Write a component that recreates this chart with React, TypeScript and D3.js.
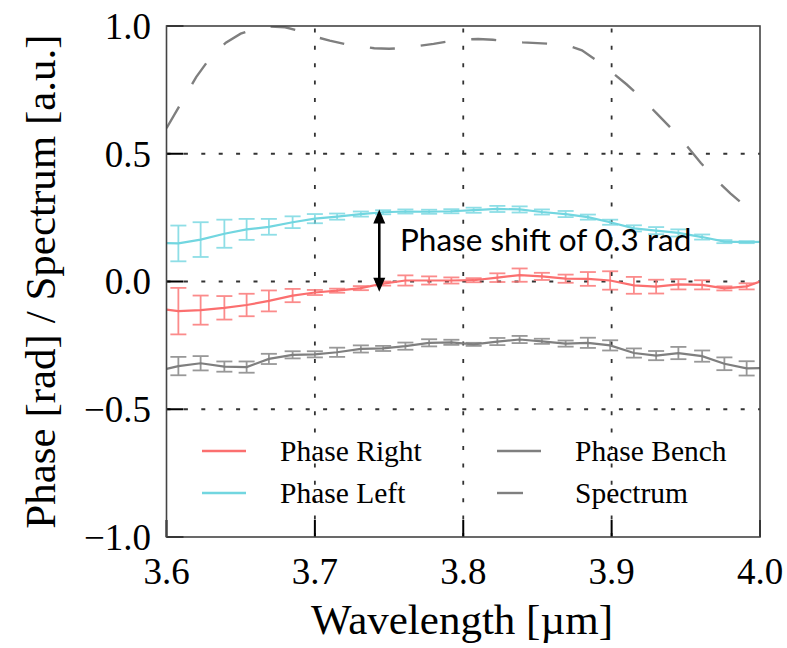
import React from "react";
import * as d3 from "d3";

// Sample wavelengths (µm); the first and last entries are the plot edges, drawn without error bars
const wavelengths = [
  3.6, 3.608, 3.623, 3.639, 3.654, 3.669, 3.685, 3.7, 3.715, 3.731, 3.746, 3.761, 3.777, 3.792,
  3.807, 3.823, 3.838, 3.853, 3.869, 3.884, 3.899, 3.915, 3.93, 3.945, 3.961, 3.976, 3.991, 4.0,
];

const phaseRight = [
  -0.11, -0.116, -0.112, -0.103, -0.092, -0.076, -0.055, -0.043, -0.036, -0.026, -0.008, 0.004,
  0.004, 0.004, 0.005, 0.015, 0.025, 0.02, 0.011, 0.01, 0.004, -0.015, -0.02, -0.011, -0.013,
  -0.027, -0.019, 0.0,
];
const phaseRightErr = [
  null, 0.091, 0.057, 0.046, 0.044, 0.041, 0.026, 0.01, 0.008, 0.008, 0.008, 0.02, 0.016, 0.012,
  0.008, 0.017, 0.026, 0.014, 0.016, 0.027, 0.036, 0.033, 0.027, 0.02, 0.018, 0.008, 0.012, null,
];

const phaseLeft = [
  0.15, 0.149, 0.164, 0.187, 0.204, 0.214, 0.232, 0.246, 0.254, 0.264, 0.271, 0.274, 0.273, 0.275,
  0.279, 0.284, 0.282, 0.272, 0.264, 0.252, 0.232, 0.208, 0.199, 0.19, 0.174, 0.156, 0.154, 0.155,
];
const phaseLeftErr = [
  null, 0.07, 0.068, 0.055, 0.041, 0.031, 0.023, 0.018, 0.012, 0.01, 0.008, 0.008, 0.008, 0.008,
  0.01, 0.012, 0.012, 0.01, 0.012, 0.01, 0.01, 0.012, 0.014, 0.014, 0.01, 0.006, 0.004, null,
];

const phaseBench = [
  -0.342, -0.331, -0.32, -0.333, -0.335, -0.303, -0.287, -0.285, -0.277, -0.264, -0.262, -0.253,
  -0.24, -0.238, -0.246, -0.235, -0.227, -0.234, -0.243, -0.24, -0.25, -0.28, -0.29, -0.28, -0.292,
  -0.322, -0.34, -0.339,
];
const phaseBenchErr = [
  null, 0.036, 0.028, 0.02, 0.022, 0.02, 0.014, 0.012, 0.018, 0.014, 0.01, 0.014, 0.014, 0.01,
  0.006, 0.014, 0.014, 0.01, 0.012, 0.02, 0.02, 0.018, 0.018, 0.024, 0.022, 0.025, 0.028, null,
];

// Normalised source spectrum
const spectrumWavelengths = [
  3.6, 3.61, 3.62, 3.63, 3.64, 3.65, 3.66, 3.67, 3.68, 3.69, 3.7, 3.71, 3.72, 3.73, 3.74, 3.75,
  3.76, 3.77, 3.78, 3.79, 3.8, 3.81, 3.82, 3.83, 3.84, 3.85, 3.86, 3.87, 3.88, 3.89, 3.9, 3.91,
  3.92, 3.93, 3.94, 3.95, 3.96, 3.97, 3.98, 3.99, 4.0,
];
const spectrum = [
  0.6, 0.7, 0.8, 0.88, 0.935, 0.97, 0.99, 0.998, 0.995, 0.98, 0.958, 0.943, 0.93, 0.922, 0.913,
  0.911, 0.914, 0.922, 0.93, 0.94, 0.947, 0.949, 0.946, 0.941, 0.936, 0.933, 0.93, 0.925, 0.905,
  0.865, 0.82, 0.772, 0.72, 0.66, 0.6, 0.535, 0.465, 0.4, 0.345, 0.295, 0.252,
];

const xTicks = [3.6, 3.7, 3.8, 3.9, 4.0];
const yTicks = [-1.0, -0.5, 0.0, 0.5, 1.0];
const xGrid = [3.7, 3.8, 3.9];
const yGrid = [-0.5, 0.0, 0.5];

const shiftTop = 0.282;
const shiftBottom = -0.04;
const shiftWavelength = 3.7434;

const W = 787;
const H = 648;
const left = 166.5;
const right = 760;
const top = 26;
const bottom = 537;

const RED = "#fb6f6f";
const CYAN = "#72d6e0";
const GRAY = "#7f7f7f";

const serif = "'Liberation Serif', 'Times New Roman', serif";

const fmt = (v: number) => {
  const s = Math.abs(v).toFixed(1);
  return v < 0 ? "\u2212" + s : s;
};

export default function App() {
  const x = d3.scaleLinear().domain([3.6, 4.0]).range([left, right]);
  const y = d3.scaleLinear().domain([-1, 1]).range([bottom, top]);

  const line = d3
    .line<[number, number]>()
    .x((d) => x(d[0]))
    .y((d) => y(d[1]));

  const seriesList = [
    { name: "Phase Bench", values: phaseBench, errs: phaseBenchErr, color: GRAY },
    { name: "Phase Right", values: phaseRight, errs: phaseRightErr, color: RED },
    { name: "Phase Left", values: phaseLeft, errs: phaseLeftErr, color: CYAN },
  ];

  const spectrumPath = line(
    spectrumWavelengths.map((w, i) => [w, spectrum[i]] as [number, number])
  )!;

  const capHalf = 8;

  const legendRows = [
    { label: "Phase Right", color: RED, col: 0, row: 0, dashed: false },
    { label: "Phase Left", color: CYAN, col: 0, row: 1, dashed: false },
    { label: "Phase Bench", color: GRAY, col: 1, row: 0, dashed: false },
    { label: "Spectrum", color: GRAY, col: 1, row: 1, dashed: true },
  ];

  return (
    <svg
      width={W}
      height={H}
      style={{ position: "absolute", left: 0, top: 0, background: "#fff" }}
    >
      <rect x={0} y={0} width={W} height={H} fill="#fff" />

      {/* grid */}
      <g stroke="#333" strokeWidth={1.8} strokeDasharray="4,13.4">
        {xGrid.map((g) => (
          <line key={"gx" + g} x1={x(g)} x2={x(g)} y1={bottom} y2={top} />
        ))}
        {yGrid.map((g) => (
          <line key={"gy" + g} x1={left} x2={right} y1={y(g)} y2={y(g)} />
        ))}
      </g>

      <defs>
        <clipPath id="plotArea">
          <rect x={left} y={top} width={right - left} height={bottom - top} />
        </clipPath>
      </defs>

      <g clipPath="url(#plotArea)">
        {/* spectrum */}
        <path
          d={spectrumPath}
          fill="none"
          stroke={GRAY}
          strokeWidth={2.4}
          strokeDasharray="25,26"
        />

        {seriesList.map((s) => {
          const pts = wavelengths.map((w, i) => [w, s.values[i]] as [number, number]);
          return (
            <g key={s.name}>
              <path d={line(pts)!} fill="none" stroke={s.color} strokeWidth={2.2} />
              <g stroke={s.color} strokeWidth={1.8} opacity={0.8}>
                {wavelengths.map((w, i) => {
                  const e = s.errs[i];
                  if (e == null) return null;
                  const cx = x(w);
                  const y1 = y(s.values[i] - e);
                  const y2 = y(s.values[i] + e);
                  return (
                    <g key={i}>
                      <line x1={cx} x2={cx} y1={y1} y2={y2} />
                      <line x1={cx - capHalf} x2={cx + capHalf} y1={y1} y2={y1} />
                      <line x1={cx - capHalf} x2={cx + capHalf} y1={y2} y2={y2} />
                    </g>
                  );
                })}
              </g>
            </g>
          );
        })}
      </g>

      {/* phase shift annotation */}
      <g>
        <line
          x1={x(shiftWavelength)}
          x2={x(shiftWavelength)}
          y1={y(shiftTop) + 10}
          y2={y(shiftBottom) - 10}
          stroke="#000"
          strokeWidth={2.6}
        />
        <path
          d={`M${x(shiftWavelength)},${y(shiftTop)} l-6,14 l12,0 z`}
          fill="#000"
        />
        <path
          d={`M${x(shiftWavelength)},${y(shiftBottom)} l-6,-14 l12,0 z`}
          fill="#000"
        />
        <text
          x={400}
          y={251}
          fontFamily="Lato, 'Open Sans', sans-serif"
          fontSize={31.5}
          fill="#000"
        >
          Phase shift of 0.3 rad
        </text>
      </g>

      {/* legend */}
      <g fontFamily={serif} fontSize={29.5} fill="#000">
        {legendRows.map((r) => {
          const lx = r.col === 0 ? 202 : 497;
          const ly = 451 + r.row * 42;
          return (
            <g key={r.label}>
              <line
                x1={lx}
                x2={r.dashed ? lx + 26 : lx + 44}
                y1={ly}
                y2={ly}
                stroke={r.color}
                strokeWidth={2.4}
              />
              <text x={lx + 78} y={ly} dy="0.35em">
                {r.label}
              </text>
            </g>
          );
        })}
      </g>

      {/* ticks */}
      <g stroke="#000" strokeWidth={2}>
        {yTicks.map((t) => (
          <line key={"ty" + t} x1={left} x2={left + 17} y1={y(t)} y2={y(t)} />
        ))}
        {xTicks.map((t) => (
          <line key={"tx" + t} x1={x(t)} x2={x(t)} y1={bottom} y2={bottom - 17} />
        ))}
      </g>

      {/* frame */}
      <rect
        x={left}
        y={top}
        width={right - left}
        height={bottom - top}
        fill="none"
        stroke="#444"
        strokeWidth={1.6}
      />

      {/* tick labels */}
      <g fontFamily={serif} fontSize={37} fill="#000">
        {yTicks.map((t) => (
          <text key={"ly" + t} x={151} y={y(t)} dy="0.35em" textAnchor="end">
            {fmt(t)}
          </text>
        ))}
        {xTicks.map((t) => (
          <text key={"lx" + t} x={x(t)} y={584} textAnchor="middle">
            {t.toFixed(1)}
          </text>
        ))}
      </g>

      {/* axis titles */}
      <text
        x={462}
        y={634}
        textAnchor="middle"
        fontFamily={serif}
        fontSize={43}
        fill="#000"
      >
        Wavelength [µm]
      </text>
      <text
        transform={`translate(55,${(top + bottom) / 2}) rotate(-90)`}
        textAnchor="middle"
        fontFamily={serif}
        fontSize={43}
        fill="#000"
      >
        Phase [rad] / Spectrum [a.u.]
      </text>
    </svg>
  );
}
